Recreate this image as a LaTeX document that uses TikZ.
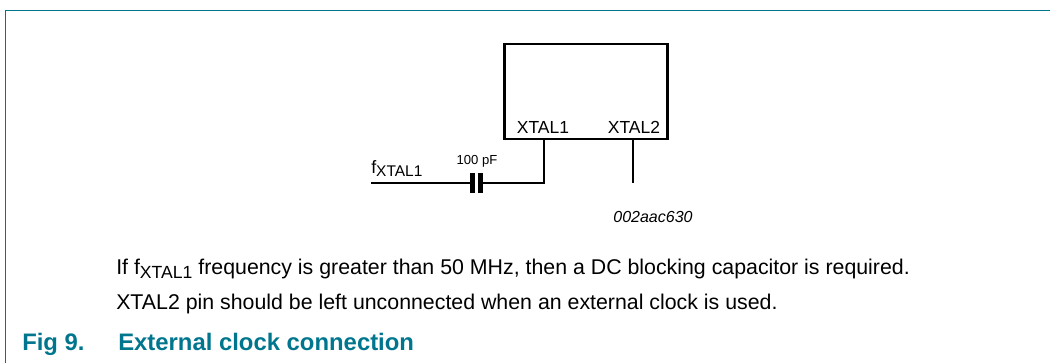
\documentclass[tikz,border=0pt]{standalone}
\usepackage{fontspec}
\setmainfont{Liberation Sans}
\usetikzlibrary{positioning}
\definecolor{nxpteal}{RGB}{0,118,142}
\tikzset{x=0.75pt, y=-0.75pt,
    wire/.style={line width=0.8pt},
    chip/.style={draw, line width=1.8pt, minimum width=122pt, minimum height=71pt, inner sep=0pt},
    plate/.style={fill, minimum width=3.4pt, minimum height=15.5pt, inner sep=0pt},
    pinlabel/.style={font=\fontsize{13.1}{15}\selectfont, inner sep=0pt},
    note/.style={font=\fontsize{16}{18}\selectfont, anchor=base west, inner sep=0pt},
    caption/.style={font=\fontsize{17.9}{20}\selectfont\bfseries, text=nxpteal, anchor=base west, inner sep=0pt},
    }

\begin{document}
\begin{tikzpicture}
\useasboundingbox (0,0) rectangle (1050,363);
% frame
\draw[nxpteal, line width=1.3pt] (5.5,363) -- (5.5,10.5) -- (1050,10.5);
% device
\node[chip] (dev) at (586,91.5) {};
\node[pinlabel] (x1) at (543,127) {XTAL1};
\node[pinlabel] (x2) at (634,127) {XTAL2};
\coordinate (p1) at (544,139);
\coordinate (p2) at (633,139);
\coordinate (p1end) at (544,183);
\coordinate (p2end) at (633,183);
% coupling capacitor
\coordinate (in) at (371,183);
\node[plate] (capA) at (472.5,183) {};
\node[plate] (capB) at (480.5,183) {};
\draw[wire] (in) -- (capA);
\draw[wire] (capB) -- (p1end) -- (p1);
\draw[wire] (p2) -- (p2end);
\node[font=\fontsize{13.4}{15}\selectfont, anchor=south west, inner sep=0pt] (fin) at (371,177) {f\raisebox{-0.35ex}{\fontsize{11.6}{13}\selectfont XTAL1}};
\node[font=\fontsize{9.8}{11}\selectfont, inner sep=0pt] (cval) at (477,161) {100 pF};
\node[font=\fontsize{12}{14}\selectfont\itshape, inner sep=0pt] (code) at (653,217) {002aac630};
% notes and caption
\node[note] (n1) at (116,275) {If f\raisebox{-0.35ex}{\fontsize{13.2}{15}\selectfont XTAL1} frequency is greater than 50 MHz, then a DC blocking capacitor is required.};
\node[note] (n2) at (116,310) {XTAL2 pin should be left unconnected when an external clock is used.};
\node[caption] (fig) at (22,351) {Fig 9.};
\node[caption] (title) at (118,351) {External clock connection};
\end{tikzpicture}
\end{document}
